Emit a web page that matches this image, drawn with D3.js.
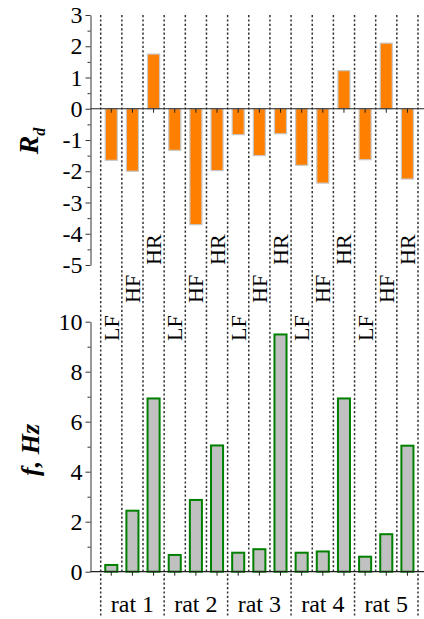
<!DOCTYPE html>
<html>
<head>
<meta charset="utf-8">
<script src="https://cdn.jsdelivr.net/npm/d3@7"></script>
<style>
  body { margin: 0; background: #fff; }
</style>
</head>
<body>
<div id="chart"></div>
<script>
// Data
const rats = ["rat 1", "rat 2", "rat 3", "rat 4", "rat 5"];
const measures = ["LF", "HF", "HR"];
const rdValues = [-1.65, -2.0, 1.75, -1.33, -3.71, -1.98, -0.83, -1.5, -0.8, -1.81, -2.38, 1.22, -1.63, 2.1, -2.25];
const fValues = [0.27, 2.44, 6.93, 0.67, 2.87, 5.05, 0.76, 0.9, 9.49, 0.76, 0.81, 6.93, 0.6, 1.5, 5.04];
const rdTicks = [-5, -4, -3, -2, -1, 0, 1, 2, 3];
const fTicks = [0, 2, 4, 6, 8, 10];

const W = 424, H = 619;
const axisX = 90.5;
const plotLeft = 100.7, plotRight = 418;
const SERIF = "'Liberation Serif', 'Times New Roman', serif";

const svg = d3.select("#chart")
    .append("svg")
    .attr("width", W)
    .attr("height", H);

const cats = d3.range(rats.length * measures.length);

const x = d3.scaleBand()
    .domain(cats)
    .range([plotLeft, plotRight])
    .paddingInner(0.43)
    .paddingOuter(0.215);

const step = (plotRight - plotLeft) / cats.length;

const yTop = d3.scaleLinear().domain([-5, 3]).range([265, 15]);
const yBot = d3.scaleLinear().domain([0, 10]).range([571.7, 321.7]);

// Dashed separators
svg.append("g")
    .selectAll("line")
    .data(d3.range(cats.length + 1))
    .enter()
    .append("line")
    .attr("x1", i => plotLeft + i * step)
    .attr("x2", i => plotLeft + i * step)
    .attr("y1", 15)
    .attr("y2", i => i % 3 === 0 ? 616 : yBot(0))
    .attr("stroke", "#333")
    .attr("stroke-width", 1.5)
    .attr("stroke-dasharray", "2.2,2.2");

// Y axes (minor + major ticks)
function yAxis(scale, ticks, minorTicks) {
    const g = svg.append("g").attr("transform", `translate(${axisX},0)`);
    g.call(d3.axisLeft(scale).tickValues(minorTicks).tickSize(3).tickFormat(""))
        .call(a => a.select(".domain").remove());
    g.selectAll("line").attr("stroke", "#333");
    const g2 = svg.append("g").attr("transform", `translate(${axisX},0)`);
    g2.call(d3.axisLeft(scale).tickValues(ticks).tickSize(5).tickSizeOuter(0).tickPadding(3).tickFormat(d => String(d)));
    g2.attr("font-family", null).attr("font-size", null);
    g2.select(".domain").attr("stroke", "#333");
    g2.selectAll("line").attr("stroke", "#333");
    g2.selectAll("text")
        .style("font-family", SERIF)
        .style("font-size", "24px")
        .attr("fill", "#000");
}
yAxis(yTop, rdTicks, d3.range(-4.5, 3, 1));
yAxis(yBot, fTicks, d3.range(1, 10, 2));

// Top bars
svg.append("g")
    .selectAll("rect")
    .data(rdValues)
    .enter()
    .append("rect")
    .attr("x", (d, i) => x(i))
    .attr("width", x.bandwidth())
    .attr("y", d => yTop(Math.max(0, d)))
    .attr("height", d => Math.abs(yTop(d) - yTop(0)))
    .attr("fill", "#ff8000")
    .attr("stroke", "#c8c8c8")
    .attr("stroke-width", 1.2);

// Zero line + ticks
svg.append("line")
    .attr("x1", axisX).attr("x2", W)
    .attr("y1", yTop(0)).attr("y2", yTop(0))
    .attr("stroke", "#222").attr("stroke-width", 1.2);
svg.append("g")
    .selectAll("line")
    .data(cats)
    .enter()
    .append("line")
    .attr("x1", i => x(i) + x.bandwidth() / 2)
    .attr("x2", i => x(i) + x.bandwidth() / 2)
    .attr("y1", yTop(0))
    .attr("y2", yTop(0) + 4)
    .attr("stroke", "#222");

// Bottom bars
svg.append("g")
    .selectAll("rect")
    .data(fValues)
    .enter()
    .append("rect")
    .attr("x", (d, i) => x(i))
    .attr("width", x.bandwidth())
    .attr("y", d => yBot(d))
    .attr("height", d => yBot(0) - yBot(d))
    .attr("fill", "#c0c0c0")
    .attr("stroke", "#008000")
    .attr("stroke-width", 2);

// Bottom axis line + ticks
svg.append("line")
    .attr("x1", axisX).attr("x2", W)
    .attr("y1", yBot(0)).attr("y2", yBot(0))
    .attr("stroke", "#222").attr("stroke-width", 1.2);
svg.append("g")
    .selectAll("line")
    .data(cats)
    .enter()
    .append("line")
    .attr("x1", i => x(i) + x.bandwidth() / 2)
    .attr("x2", i => x(i) + x.bandwidth() / 2)
    .attr("y1", yBot(0))
    .attr("y2", yBot(0) + 4)
    .attr("stroke", "#222");

// Measure labels (rotated)
const labelBase = { LF: 341, HF: 303, HR: 265 };
svg.append("g")
    .selectAll("text")
    .data(cats)
    .enter()
    .append("text")
    .attr("transform", i => {
        const cx = x(i) + x.bandwidth() / 2 + 7.5;
        return `translate(${cx},${labelBase[measures[i % 3]]}) rotate(-90)`;
    })
    .style("font-family", SERIF)
    .style("font-size", "22px")
    .text(i => measures[i % 3]);

// Rat labels
svg.append("g")
    .selectAll("text")
    .data(rats)
    .enter()
    .append("text")
    .attr("x", (d, i) => plotLeft + (i * 3 + 1.5) * step)
    .attr("y", 612)
    .attr("text-anchor", "middle")
    .style("font-family", SERIF)
    .style("font-size", "24px")
    .text(d => d);

// Axis titles
const t1 = svg.append("text")
    .attr("transform", `translate(38,141) rotate(-90)`)
    .attr("text-anchor", "middle")
    .style("font-family", SERIF)
    .style("font-size", "28px")
    .style("font-weight", "bold")
    .style("font-style", "italic");
t1.append("tspan").text("R");
t1.append("tspan").attr("dy", 7).style("font-size", "16px").text("d");

svg.append("text")
    .attr("transform", `translate(38.5,450) rotate(-90)`)
    .attr("text-anchor", "middle")
    .style("font-family", SERIF)
    .style("font-size", "26px")
    .style("font-weight", "bold")
    .style("font-style", "italic")
    .text("f, Hz");
</script>
</body>
</html>
